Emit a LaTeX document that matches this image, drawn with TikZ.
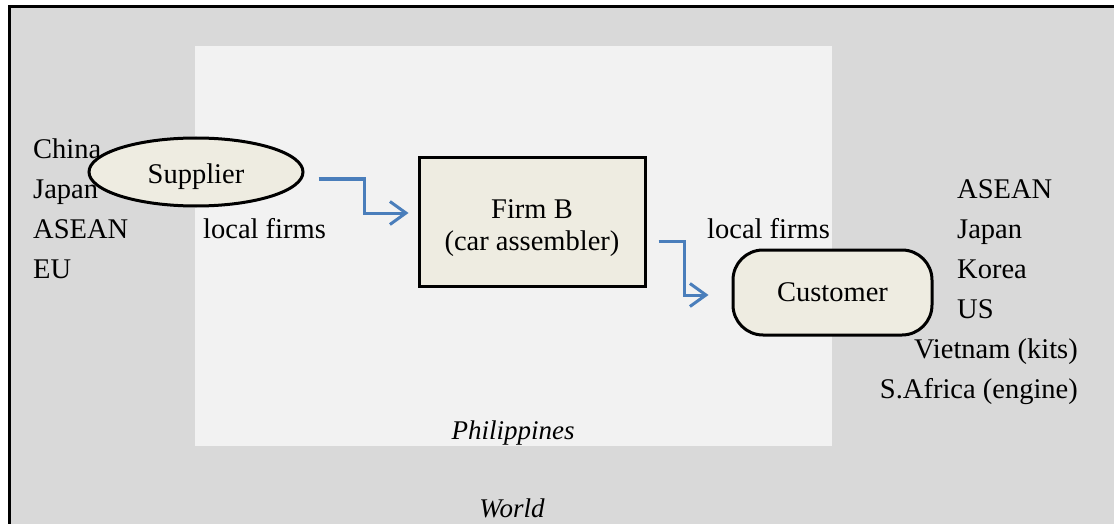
\documentclass[tikz,border=0pt]{standalone}
\usepackage{fontspec}
\setmainfont{Liberation Serif}
\usetikzlibrary{shapes.geometric,arrows.meta,calc}
\definecolor{worldgray}{HTML}{D9D9D9}
\definecolor{phgray}{HTML}{F2F2F2}
\definecolor{nodefill}{HTML}{EEECE1}
\definecolor{arrblue}{HTML}{4A7EBB}
\begin{document}
\begin{tikzpicture}[x=1pt,y=-1pt,
  txt/.style={font=\fontsize{28.5}{33}\selectfont, inner sep=0pt},
  itxt/.style={font=\fontsize{27}{32}\selectfont\itshape, inner sep=0pt},
  box/.style={draw=black, line width=3pt, fill=nodefill},
  arr/.style={draw=arrblue, line width=3pt, -{Straight Barb[length=16pt,width=23pt,line width=3pt]}}]
\useasboundingbox (0,0) rectangle (1114,524);
\clip (0,0) rectangle (1114,524);
% world frame
\path[fill=worldgray, draw=black, line width=3pt] (9,7) rectangle (1140,560);
% Philippines
\path[fill=phgray] (195,46) rectangle (832,446);
\node[itxt, anchor=base] (ph) at (513,439) {Philippines};
\node[itxt, anchor=base] (world) at (512,517) {World};
% nodes
\node[box, ellipse, minimum width=214pt, minimum height=68pt, inner sep=0pt] (sup) at (196,172) {};
\node[txt, anchor=base] (suptxt) at (196,183) {Supplier};
\node[box, rectangle, minimum width=226pt, minimum height=128pt] (firm) at (532,222) {};
\node[txt, anchor=base] (firm1) at (532,218) {Firm B};
\node[txt, anchor=base] (firm2) at (532,250) {(car assembler)};
\node[box, rectangle, rounded corners=30pt, minimum width=199pt, minimum height=85pt, txt] (cust) at (832.5,292.5) {Customer};
% left list
\node[txt, anchor=base west] (l1) at (33,158.5) {China};
\node[txt, anchor=base west] (l2) at (33,198.5) {Japan};
\node[txt, anchor=base west] (l3) at (33,238.5) {ASEAN};
\node[txt, anchor=base west] (l4) at (33,278.5) {EU};
% local firms
\node[txt, anchor=base west] (lf1) at (203,238.5) {local firms};
\node[txt, anchor=base west] (lf2) at (707,238.5) {local firms};
% right list
\node[txt, anchor=base west] (r1) at (957,198) {ASEAN};
\node[txt, anchor=base west] (r2) at (957,238) {Japan};
\node[txt, anchor=base west] (r3) at (957,278) {Korea};
\node[txt, anchor=base west] (r4) at (957,318) {US};
\node[txt, anchor=base east] (r5) at (1078,358) {Vietnam (kits)};
\node[txt, anchor=base east] (r6) at (1078,398) {S.Africa (engine)};
% arrows
\draw[arr] ([shift={(14,7)}]sup.east) -- ++(46,0) |- ([shift={(-9,-9)}]firm.west);
\draw[arr] ([shift={(12,19)}]firm.east) -- ++(26,0) |- ([shift={(-23,2.5)}]cust.west);
\end{tikzpicture}
\end{document}
